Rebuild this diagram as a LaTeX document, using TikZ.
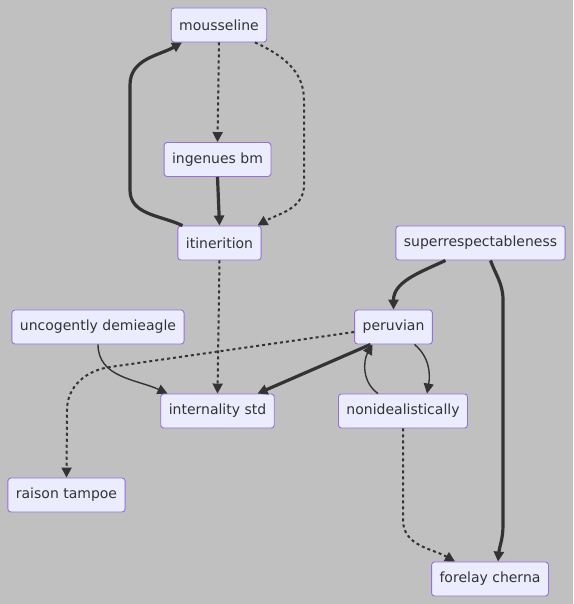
\documentclass[tikz,border=0pt]{standalone}
\usepackage{fontspec}
\setmainfont{DejaVu Sans}
\usetikzlibrary{arrows.meta}

\definecolor{bggray}{HTML}{C0C0C0}
\definecolor{boxfill}{HTML}{ECECFF}
\definecolor{boxline}{HTML}{9370DB}
\definecolor{edgeline}{HTML}{333333}

\begin{document}
\begin{tikzpicture}[x=1pt,y=1pt,
    >={Triangle[length=10pt,width=10pt]},
    box/.style={draw=boxline,fill=boxfill,rounded corners=3pt,line width=0.9pt,
      minimum height=34pt,inner xsep=8pt,text=edgeline,font=\fontsize{14}{16}\selectfont},
    thin/.style={draw=edgeline,line width=1.4pt},
    thick/.style={draw=edgeline,line width=3.2pt},
    dots/.style={draw=edgeline,line width=2pt,dash pattern=on 3pt off 3pt}]
      \fill[bggray] (0,0) rectangle (573,-604);
      \useasboundingbox (0,0) rectangle (573,-604);

      \node[box] (mous) at (219,-25) {mousseline};
      \node[box] (ingen) at (217.5,-159.5) {ingenues bm};
      \node[box] (itin) at (219.5,-243) {itinerition};
      \node[box] (super) at (480.5,-243) {superrespectableness};
      \node[box] (uncog) at (98,-327) {uncogently demieagle};
      \node[box] (peru) at (393.5,-327) {peruvian};
      \node[box] (intern) at (217.5,-411) {internality std};
      \node[box] (nonid) at (403,-411) {nonidealistically};
      \node[box] (raison) at (66.5,-495) {raison tampoe};
      \node[box] (fore) at (490,-579) {forelay cherna};

      % upper part
      \draw[dots,->] (mous.south) -- (ingen.north);
      \draw[dots,->] ([xshift=36pt]mous.south) to[out=-25,in=90] (304,-100) -- (304,-185) to[out=-90,in=30] ([xshift=38pt]itin.north);
      \draw[thick,->] (ingen.south) -- (itin.north);
      \draw[thick,->] ([xshift=-37pt]itin.north) to[out=155,in=-90] (130,-190) -- (130,-85) to[out=90,in=210] ([xshift=-37pt]mous.south);
      \draw[dots,->] (itin.south) -- (intern.north);

      % right part
      \draw[thick,->] ([xshift=-35pt]super.south) to[out=-155,in=90] (peru.north);
      \draw[thick,->] ([xshift=10pt]super.south) to[out=-70,in=90] (503,-300) -- (503,-525) to[out=-90,in=85] ([xshift=8pt]fore.north);
      \draw[thin,->] (uncog.south) to[out=-90,in=155] ([xshift=-50pt]intern.north);
      \draw[dots,->] ([yshift=-5pt]peru.west) -- (110,-367) to[out=188,in=90] (67,-410) -- (raison.north);
      \draw[thick,->] ([xshift=-23pt]peru.south) -- ([xshift=40pt]intern.north);
      \draw[thin,->] ([xshift=21pt]peru.south) to[out=-40,in=80] ([xshift=24pt]nonid.north);
      \draw[thin,->] ([xshift=-25pt]nonid.north) to[out=145,in=-120] ([xshift=-21pt]peru.south);
      \draw[dots,->] (nonid.south) -- (403,-520) to[out=-90,in=150] ([xshift=-35pt]fore.north);
    \end{tikzpicture}
\end{document}
